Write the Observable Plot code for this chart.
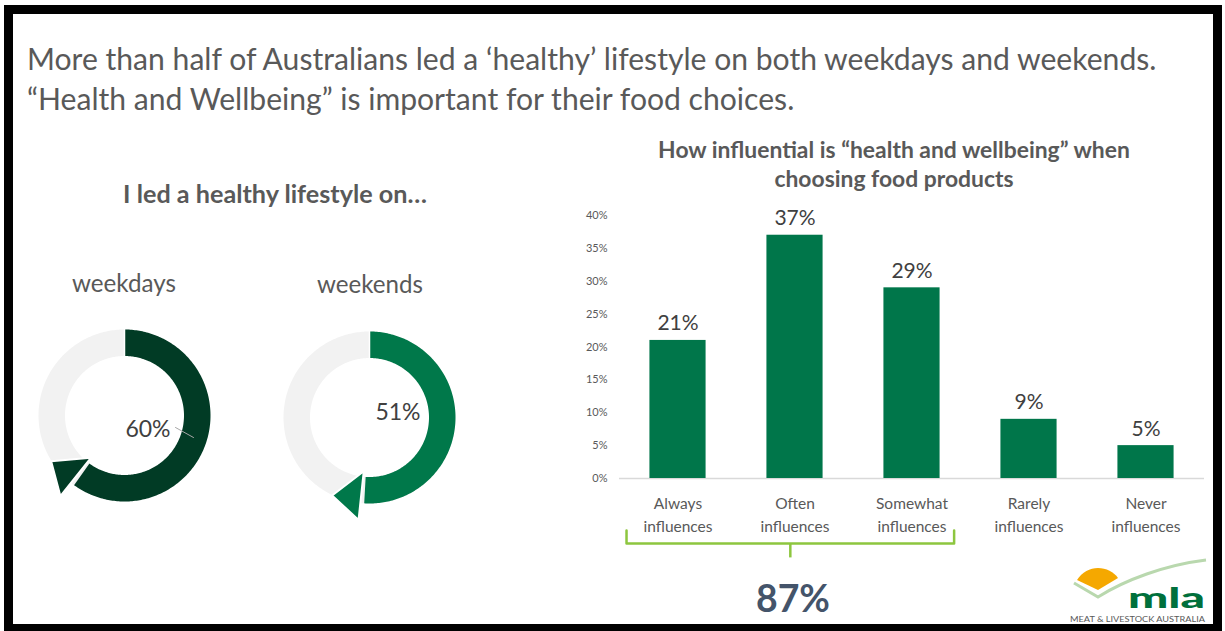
<!DOCTYPE html>
<html><head><meta charset="utf-8">
<script src="https://cdn.jsdelivr.net/npm/d3@7"></script>
<script src="https://cdn.jsdelivr.net/npm/@observablehq/plot@0.6"></script>
<style>
html,body{margin:0;padding:0;background:#fff;overflow:hidden;}
#slide{position:relative;width:1225px;height:631px;overflow:hidden;background:#fff;font-family:Lato,"Open Sans",sans-serif;}
.t{position:absolute;white-space:nowrap;line-height:1;}
.abs{position:absolute;}
</style></head><body><div id="slide"></div>
<script>
// ---- data ----
const subtitleLines = ["More than half of Australians led a ‘healthy’ lifestyle on both weekdays and weekends.", "“Health and Wellbeing” is important for their food choices."];
const donutTitle = "I led a healthy lifestyle on…";
const donutLabels = ["weekdays", "weekends"];
const donutValues = [60, 51];
const barTitle = ["How influential is “health and wellbeing” when", "choosing food products"];
const categories = ["Always\ninfluences", "Often\ninfluences", "Somewhat\ninfluences", "Rarely\ninfluences", "Never\ninfluences"];
const barValues = [21, 37, 29, 9, 5];
const yTicks = [0, 5, 10, 15, 20, 25, 30, 35, 40];
const bracketCount = 3; // first three categories grouped by the bracket

// ---- styles ----
const donutColors = ["#013B25", "#00784A"];
const barColor = "#00764A";
const slide = document.getElementById("slide");

function place(text, o) {
  const d = document.createElement("div");
  d.className = "t"; d.textContent = text;
  d.style.fontWeight = o.weight || 400;
  d.style.color = o.color || "#595959";
  let F = o.size || 20;
  d.style.fontSize = F + "px";
  slide.appendChild(d);
  if (o.width) { const w = d.getBoundingClientRect().width; F = F * o.width / w; d.style.fontSize = F + "px"; }
  const w2 = d.getBoundingClientRect().width;
  d.style.left = (o.anchor === "middle" ? o.x - w2 / 2 : o.x) + "px";
  d.style.top = (o.baseline - 0.887 * F) + "px";
  return F;
}
function box(el, left, top) { el.classList.add("abs"); el.style.left = left + "px"; el.style.top = top + "px"; slide.appendChild(el); }

// frame
const frame = document.createElement("div");
frame.style.cssText = "position:absolute;left:4px;top:5px;width:1218px;height:628px;box-sizing:border-box;border:9px solid #000;";
slide.appendChild(frame);

// subtitle
const fs = place(subtitleLines[0], {x: 27, baseline: 70, width: 1130});
place(subtitleLines[1], {x: 27, baseline: 110, size: fs});

// donut section texts
place(donutTitle, {x: 275, baseline: 203, width: 304, weight: 700, anchor: "middle"});
place(donutLabels[0], {x: 124, baseline: 292, width: 104, anchor: "middle"});
place(donutLabels[1], {x: 370, baseline: 293, width: 106, anchor: "middle"});

// ---- donuts ----
const R_OUT = 0.86, R_IN = 0.595, MID = (R_OUT + R_IN) / 2, RING_W = (R_OUT - R_IN) * 100;
const donutCenters = [[124, 415], [369, 417]];
const donutLabelPos = [{x: 0.235, y: -0.21}, {x: 0.285, y: -0.02}];
const donutLeaders = [[{x: 0.51, y: -0.12}, {x: 0.69, y: -0.22}], null];
function polar(r, deg) { const a = deg * Math.PI / 180; return {x: r * Math.sin(a), y: r * Math.cos(a)}; }
function arcPts(r, a0, a1) { const n = Math.max(2, Math.ceil(Math.abs(a1 - a0))); return d3.range(n + 1).map(k => polar(r, a0 + (a1 - a0) * k / n)); }

donutValues.forEach((v, i) => {
  const end = v / 100 * 360;
  const color = donutColors[i];
  const base = end + 2.5;
  const tip = [polar(0.54, base), polar(1.03, base), polar(0.865, end + 22), polar(0.54, base)];
  const lab = donutLabelPos[i];
  const marks = [
    Plot.line(arcPts(MID, 0, 360), {x: "x", y: "y", stroke: "#F2F2F2", strokeWidth: RING_W, strokeLinecap: "butt"}),
    Plot.line(arcPts(MID, 0, end), {x: "x", y: "y", stroke: color, strokeWidth: RING_W, strokeLinecap: "butt"}),
    Plot.line(tip, {x: "x", y: "y", fill: color, stroke: "#fff", strokeWidth: 2, strokeLinejoin: "miter"}),
    Plot.link([v], {x1: () => 0, y1: () => R_IN - 0.01, x2: () => 0, y2: () => R_OUT + 0.01, stroke: "#fff", strokeWidth: 1.5}),
    Plot.text([v], {x: () => lab.x, y: () => lab.y, text: d => d + "%", fontSize: 23, fill: "#404040", lineAnchor: "bottom", fontFamily: "Lato"})
  ];
  if (donutLeaders[i]) marks.push(Plot.line(donutLeaders[i], {x: "x", y: "y", stroke: "#A6A6A6", strokeWidth: 1}));
  const p = Plot.plot({
    width: 240, height: 240, margin: 0,
    x: {domain: [-1.2, 1.2], axis: null}, y: {domain: [-1.2, 1.2], axis: null},
    style: {background: "transparent", overflow: "visible"},
    marks
  });
  box(p, donutCenters[i][0] - 120, donutCenters[i][1] - 120);
});

// ---- bar chart ----
const ft = place(barTitle[0], {x: 894, baseline: 158, width: 472, weight: 700, anchor: "middle"});
place(barTitle[1], {x: 894, baseline: 187, size: ft, weight: 700, anchor: "middle"});

const rows = categories.map((c, i) => ({i, label: c, value: barValues[i]}));
const BW = 0.48;
const bL = 0 - 0.44, bR = (bracketCount - 1) + 0.36, bMid = (bL + bR) / 2;
const yEnd = -7.9, yBar = -9.9, ySpike = -12;
const bracket = [{x: bL, y: yEnd}, {x: bL, y: yBar}, {x: bR, y: yBar}, {x: bR, y: yEnd}];
const spike = [{x: bMid, y: yBar}, {x: bMid, y: ySpike}];

const bars = Plot.plot({
  width: 660, height: 380, marginTop: 15, marginBottom: 102, marginLeft: 59, marginRight: 16,
  x: {domain: [-0.5, 4.5], axis: null},
  y: {domain: [0, 40]},
  style: {fontFamily: "Lato", color: "#595959", background: "transparent", overflow: "visible"},
  marks: [
    Plot.ruleY([0], {stroke: "#D9D9D9", strokeWidth: 1.3}),
    Plot.rectY(rows, {x1: d => d.i - BW / 2, x2: d => d.i + BW / 2, y1: () => 0, y2: "value", fill: barColor}),
    Plot.axisY({ticks: yTicks, tickFormat: d => d + "%", tickSize: 0, tickPadding: 12, fontSize: 11, label: null, color: "#595959"}),
    Plot.text(rows, {x: "i", y: "value", text: d => d.value + "%", dy: -10, lineAnchor: "bottom", fontSize: 21, fill: "#404040"}),
    Plot.text(rows, {x: "i", y: () => 0, text: "label", lineAnchor: "top", dy: 14, fontSize: 15.5, lineHeight: 1.48, fill: "#595959"}),
    Plot.line(bracket, {x: "x", y: "y", stroke: "#8DC63F", strokeWidth: 2.5, strokeLinejoin: "round"}),
    Plot.line(spike, {x: "x", y: "y", stroke: "#8DC63F", strokeWidth: 2.5, strokeLinecap: "butt"})
  ]
});
box(bars, 560, 200);

place(d3.sum(barValues.slice(0, bracketCount)) + "%", {x: 793, baseline: 612, width: 74, weight: 700, anchor: "middle", color: "#44546A"});

// ---- logo ----
const logo = document.createElement("div");
logo.innerHTML = `<svg width="165" height="80" viewBox="0 0 165 80" xmlns="http://www.w3.org/2000/svg">
  <path d="M17,30 C22,22 30,18 38,18 C46,18 54,22 58,28 L38,40 Z" fill="#F5A800"/>
  <path d="M14,33 L38,47 C65,30 105,15 146,10" fill="none" stroke="#B9D8AE" stroke-width="3"/>
  <text x="68" y="57.5" font-family="Lato" font-weight="900" font-size="29" fill="#00703C" textLength="77" lengthAdjust="spacingAndGlyphs">mla</text>
  <text x="10" y="71.5" font-family="Lato" font-size="7.5" fill="#595959" textLength="135" lengthAdjust="spacingAndGlyphs">MEAT &amp; LIVESTOCK AUSTRALIA</text>
</svg>`;
box(logo, 1060, 550);
</script>
</body></html>
